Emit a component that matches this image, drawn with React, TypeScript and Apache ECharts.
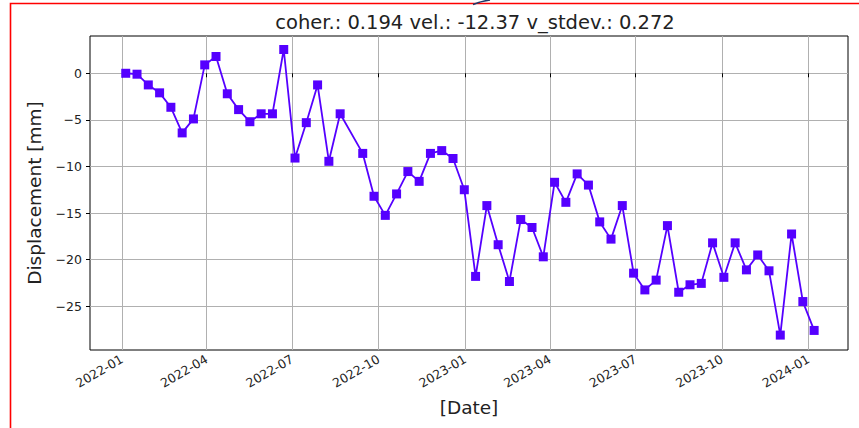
import React, { useEffect, useRef } from "react";
import * as echarts from "echarts";

const dates: string[] = [
  "2022-01-05", "2022-01-17", "2022-01-29", "2022-02-10", "2022-02-22", "2022-03-06",
  "2022-03-18", "2022-03-30", "2022-04-11", "2022-04-23", "2022-05-05", "2022-05-17",
  "2022-05-29", "2022-06-10", "2022-06-22", "2022-07-04", "2022-07-16", "2022-07-28",
  "2022-08-09", "2022-08-21", "2022-09-14", "2022-09-26", "2022-10-08", "2022-10-20",
  "2022-11-01", "2022-11-13", "2022-11-25", "2022-12-07", "2022-12-19", "2022-12-31",
  "2023-01-12", "2023-01-24", "2023-02-05", "2023-02-17", "2023-03-01", "2023-03-13",
  "2023-03-25", "2023-04-06", "2023-04-18", "2023-04-30", "2023-05-12", "2023-05-24",
  "2023-06-05", "2023-06-17", "2023-06-29", "2023-07-11", "2023-07-23", "2023-08-04",
  "2023-08-16", "2023-08-28", "2023-09-09", "2023-09-21", "2023-10-03", "2023-10-15",
  "2023-10-27", "2023-11-08", "2023-11-20", "2023-12-02", "2023-12-14", "2023-12-26",
  "2024-01-07",
];

const displacement: number[] = [
  0, -0.1, -1.25, -2.1, -3.65, -6.4,
  -4.9, 0.9, 1.8, -2.2, -3.9, -5.2,
  -4.35, -4.35, 2.55, -9.1, -5.3, -1.25,
  -9.45, -4.35, -8.6, -13.2, -15.25, -12.95,
  -10.55, -11.6, -8.6, -8.3, -9.15, -12.5,
  -21.8, -14.2, -18.4, -22.35, -15.7, -16.55,
  -19.7, -11.7, -13.85, -10.8, -12.0, -15.95,
  -17.8, -14.2, -21.45, -23.25, -22.2, -16.35,
  -23.5, -22.7, -22.55, -18.2, -21.9, -18.2,
  -21.1, -19.5, -21.2, -28.1, -17.25, -24.5,
  -27.6,
];

const xTickDates: string[] = [
  "2022-01-01", "2022-04-01", "2022-07-01", "2022-10-01", "2023-01-01",
  "2023-04-01", "2023-07-01", "2023-10-01", "2024-01-01",
];
const yTicks: number[] = [-25, -20, -15, -10, -5, 0];

const titleText = "coher.: 0.194 vel.: -12.37 v_stdev.: 0.272";
const xMin = "2021-11-28";
const xMax = "2024-02-12";
const yMin = -29.7;
const yMax = 4.0;

const ts = (d: string) => new Date(d + "T00:00:00Z").getTime();

export default function App() {
  const ref = useRef<HTMLDivElement>(null);
  useEffect(() => {
    if (!ref.current) return;
    const chart = echarts.init(ref.current, null, { renderer: "svg" });
    const tickFont = "DejaVu Sans";
    const xTickValues = xTickDates.map(ts);
    chart.setOption({
      animation: false,
      backgroundColor: "#ffffff",
      title: {
        text: titleText,
        left: 470,
        textAlign: "center",
        top: 7,
        textStyle: {
          fontFamily: "DejaVu Sans",
          fontWeight: "normal",
          fontSize: 19.5,
          color: "#222",
        },
      },
      graphic: [
        {
          type: "rect",
          shape: { x: 10.5, y: 3.5, width: 900, height: 500 },
          style: { fill: "none", stroke: "#ff0000", lineWidth: 1.6 },
          silent: true,
        },
        {
          type: "bezierCurve",
          shape: { x1: 473, y1: 4.5, x2: 490, y2: 0, cpx1: 480, cpy1: 1.5 },
          style: { fill: "none", stroke: "#1f3a6a", lineWidth: 1.6 },
          silent: true,
        },
      ],
      grid: {
        left: 90,
        right: 11,
        top: 36,
        bottom: 78,
        show: true,
        borderColor: "#000",
        borderWidth: 1,
        backgroundColor: "transparent",
      },
      xAxis: {
        type: "value",
        min: ts(xMin),
        max: ts(xMax),
        name: "[Date]",
        nameLocation: "middle",
        nameGap: 48,
        nameTextStyle: { fontFamily: "DejaVu Sans", fontSize: 18.5, color: "#222" },
        axisLine: { show: false },
        axisTick: {
          show: true,
          length: 4,
          lineStyle: { color: "#000" },
          customValues: xTickValues,
        },
        axisLabel: {
          customValues: xTickValues,
          rotate: 30,
          fontFamily: tickFont,
          fontSize: 12.5,
          color: "#222",
          margin: 8,
          formatter: (v: number) => {
            const d = new Date(v);
            const m = d.getUTCMonth() + 1;
            return d.getUTCFullYear() + "-" + (m < 10 ? "0" + m : "" + m);
          },
        },
        splitLine: { show: true, lineStyle: { color: "#b0b0b0", width: 1 } },
      },
      yAxis: {
        type: "value",
        min: yMin,
        max: yMax,
        name: "Displacement [mm]",
        nameLocation: "middle",
        nameGap: 46,
        nameTextStyle: { fontFamily: "DejaVu Sans", fontSize: 18.5, color: "#222" },
        axisLine: { show: false },
        axisTick: {
          show: true,
          length: 4,
          lineStyle: { color: "#000" },
          customValues: yTicks,
        },
        axisLabel: {
          customValues: yTicks,
          fontFamily: tickFont,
          fontSize: 12.5,
          color: "#222",
          margin: 8,
          formatter: (v: number) => (v < 0 ? "\u2212" + Math.abs(v) : "" + v),
        },
        splitLine: { show: true, lineStyle: { color: "#b0b0b0", width: 1 } },
      },
      series: [
        {
          type: "line",
          data: dates.map((d, i) => [ts(d), displacement[i]]),
          symbol: "rect",
          symbolSize: 9,
          itemStyle: { color: "#5500ff" },
          lineStyle: { color: "#5500ff", width: 1.8 },
          clip: false,
        },
      ],
    });
    return () => chart.dispose();
  }, []);
  return (
    <div
      ref={ref}
      style={{ position: "absolute", left: 0, top: 0, width: 859, height: 428 }}
    />
  );
}
